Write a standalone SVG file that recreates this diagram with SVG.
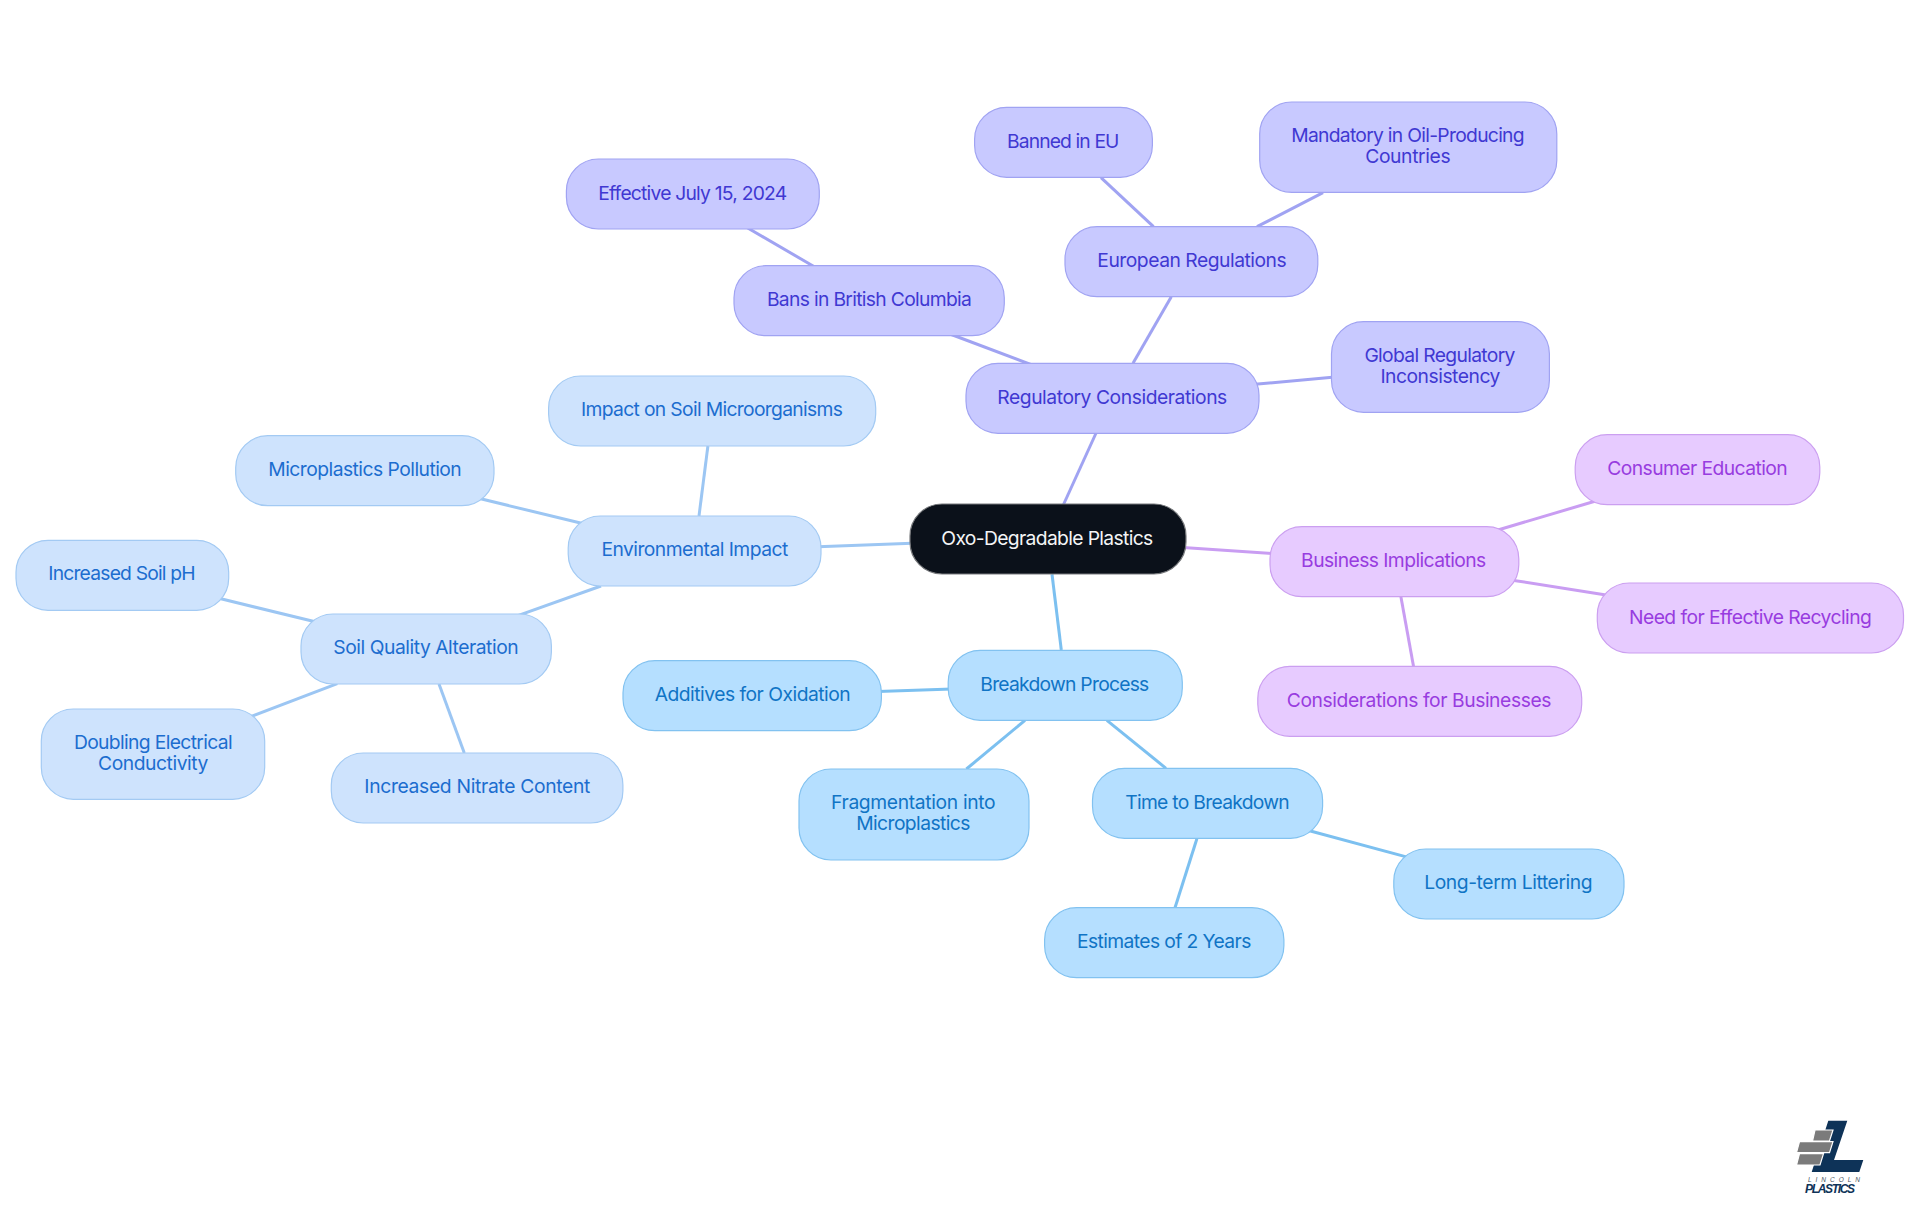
<svg xmlns="http://www.w3.org/2000/svg" width="1920" height="1215" viewBox="0 0 1920 1215">
<style>
text{font-family:"Inter","Liberation Sans",sans-serif;font-size:19.3px;text-anchor:middle;font-weight:400}
rect{stroke-width:1.2}
#connectors line{stroke-width:3;fill:none}
.r rect{fill:#0b111a;stroke:#77797c}.r text{fill:#f4f5f6}
.a rect{fill:#c8c9ff;stroke:#a0a3f2}.a text{fill:#4038d2}
.b rect{fill:#cee3fd;stroke:#a3caf3}.b text{fill:#1c6dcf}
.c rect{fill:#b5dfff;stroke:#82c2f0}.c text{fill:#1074c5}
.d rect{fill:#e7cbff;stroke:#cb9ff0}.d text{fill:#983ce0}
line.a{stroke:#a0a3f2}line.b{stroke:#9cc6f3}line.c{stroke:#7cc0f0}line.d{stroke:#c99df2}
</style>
<rect width="1920" height="1215" fill="#fff" style="stroke:none"/>
<g id="connectors">
<line class="a" x1="1063.3" y1="505" x2="1097" y2="431"/>
<line class="a" x1="950" y1="334" x2="1032" y2="365"/>
<line class="a" x1="745.6" y1="226.7" x2="816.5" y2="268"/>
<line class="a" x1="1171.3" y1="296.7" x2="1133" y2="363.3"/>
<line class="a" x1="1101" y1="177.7" x2="1153.5" y2="226.7"/>
<line class="a" x1="1323" y1="192.7" x2="1257" y2="226.7"/>
<line class="a" x1="1255" y1="384.3" x2="1335" y2="377"/>
<line class="b" x1="912" y1="543.2" x2="818" y2="546.8"/>
<line class="b" x1="707.9" y1="446" x2="699" y2="516"/>
<line class="b" x1="476.5" y1="497.8" x2="586.7" y2="524.5"/>
<line class="b" x1="601" y1="586" x2="517.8" y2="615.7"/>
<line class="b" x1="216.8" y1="597.8" x2="318.2" y2="622.5"/>
<line class="b" x1="337.3" y1="683.7" x2="248.6" y2="717.5"/>
<line class="b" x1="439" y1="684" x2="464.3" y2="753"/>
<line class="c" x1="1052" y1="574.3" x2="1061.3" y2="650"/>
<line class="c" x1="878" y1="691.4" x2="952" y2="688.9"/>
<line class="c" x1="1025" y1="720.3" x2="966.4" y2="769"/>
<line class="c" x1="1106.9" y1="720.3" x2="1166" y2="768.3"/>
<line class="c" x1="1306.7" y1="830" x2="1410" y2="857.9"/>
<line class="c" x1="1196.9" y1="838.7" x2="1175" y2="907.7"/>
<line class="d" x1="1183" y1="547.5" x2="1273" y2="553.5"/>
<line class="d" x1="1495.4" y1="530.7" x2="1598.2" y2="500.3"/>
<line class="d" x1="1510.5" y1="579.9" x2="1609.2" y2="595.5"/>
<line class="d" x1="1400.9" y1="596.7" x2="1413.5" y2="666.3"/>
</g>
<g id="root" class="r"><rect x="910" y="504" width="276" height="70" rx="32"/><text x="1047.3" y="544.5" textLength="212">Oxo-Degradable Plastics</text></g>
<g id="regulatory" class="a"><rect x="966" y="363.3" width="293" height="70" rx="32"/><text x="1112.3" y="404" textLength="230">Regulatory Considerations</text></g>
<g id="bans" class="a"><rect x="734" y="265.7" width="270.3" height="70" rx="32"/><text x="869.4" y="306" textLength="205">Bans in British Columbia</text></g>
<g id="effective" class="a"><rect x="566.4" y="159" width="252.9" height="70" rx="32"/><text x="692.7" y="199.5" textLength="189">Effective July 15, 2024</text></g>
<g id="european" class="a"><rect x="1065" y="226.7" width="252.8" height="70" rx="32"/><text x="1192" y="267" textLength="189.4">European Regulations</text></g>
<g id="banned" class="a"><rect x="974.6" y="107.3" width="177.8" height="70" rx="32"/><text x="1063.2" y="148" textLength="112.5">Banned in EU</text></g>
<g id="mandatory" class="a"><rect x="1259.7" y="102" width="297.1" height="90.3" rx="32"/><text x="1407.9" y="142" textLength="233.4">Mandatory in Oil-Producing</text><text x="1407.9" y="162.8" textLength="85.4">Countries</text></g>
<g id="global" class="a"><rect x="1331.5" y="321.7" width="217.9" height="90.6" rx="32"/><text x="1439.9" y="362" textLength="151">Global Regulatory</text><text x="1440.4" y="382.8" textLength="120">Inconsistency</text></g>
<g id="environmental" class="b"><rect x="568.2" y="516" width="252.8" height="70" rx="32"/><text x="694.8" y="556" textLength="186.8">Environmental Impact</text></g>
<g id="soilmicro" class="b"><rect x="548.6" y="376" width="327.1" height="70" rx="32"/><text x="712" y="416.3" textLength="262">Impact on Soil Microorganisms</text></g>
<g id="micropollution" class="b"><rect x="235.7" y="435.7" width="258.3" height="70" rx="32"/><text x="365" y="476" textLength="193.5">Microplastics Pollution</text></g>
<g id="soilquality" class="b"><rect x="301" y="614" width="250.4" height="70" rx="32"/><text x="426" y="654.3" textLength="185.3">Soil Quality Alteration</text></g>
<g id="soilph" class="b"><rect x="16" y="540.3" width="212.7" height="70" rx="32"/><text x="122" y="580.3" textLength="147.4">Increased Soil pH</text></g>
<g id="doubling" class="b"><rect x="41.3" y="709" width="223.4" height="90.3" rx="32"/><text x="153.3" y="749" textLength="158.7">Doubling Electrical</text><text x="153.2" y="769.8" textLength="110.3">Conductivity</text></g>
<g id="nitrate" class="b"><rect x="331.3" y="753" width="291.6" height="70" rx="32"/><text x="477.3" y="793.3" textLength="226">Increased Nitrate Content</text></g>
<g id="breakdown" class="c"><rect x="948.2" y="650.3" width="234.1" height="70" rx="32"/><text x="1064.8" y="690.5" textLength="169">Breakdown Process</text></g>
<g id="additives" class="c"><rect x="623" y="660.7" width="258.4" height="70" rx="32"/><text x="752.7" y="701" textLength="196">Additives for Oxidation</text></g>
<g id="fragmentation" class="c"><rect x="799" y="769" width="230" height="91" rx="32"/><text x="913.3" y="809" textLength="164.6">Fragmentation into</text><text x="913.3" y="830" textLength="114.3">Microplastics</text></g>
<g id="time" class="c"><rect x="1092.5" y="768.3" width="230.1" height="70" rx="32"/><text x="1207.5" y="808.5" textLength="164.5">Time to Breakdown</text></g>
<g id="littering" class="c"><rect x="1393.8" y="849" width="230.2" height="70" rx="32"/><text x="1508.4" y="889.3" textLength="168.5">Long-term Littering</text></g>
<g id="estimates" class="c"><rect x="1044.6" y="907.7" width="239.3" height="70" rx="32"/><text x="1164.2" y="948" textLength="174.4">Estimates of 2 Years</text></g>
<g id="business" class="d"><rect x="1270" y="526.7" width="248.8" height="70" rx="32"/><text x="1393.7" y="567" textLength="185.2">Business Implications</text></g>
<g id="consumer" class="d"><rect x="1575.2" y="434.7" width="244.6" height="70" rx="32"/><text x="1697.5" y="475" textLength="180.4">Consumer Education</text></g>
<g id="recycling" class="d"><rect x="1597.3" y="583" width="306.2" height="70" rx="32"/><text x="1750.4" y="623.5" textLength="242.8">Need for Effective Recycling</text></g>
<g id="considerations" class="d"><rect x="1257.8" y="666.3" width="323.9" height="70" rx="32"/><text x="1419.1" y="706.5" textLength="264.6">Considerations for Businesses</text></g>
<g id="logo">
<polygon points="1828.3,1120.7 1847.3,1120.7 1834,1160 1863.3,1160 1859.3,1172 1811.7,1172" fill="#0e3358"/>
<g fill="#7b7b7b" stroke="#fff" stroke-width="1.2">
<polygon points="1815,1130 1833,1130 1829.5,1141 1812.5,1141"/>
<polygon points="1799.5,1141.7 1833,1141.7 1829.5,1152.7 1796.5,1152.7"/>
<polygon points="1799.5,1153.7 1823.5,1153.7 1820,1165 1796.5,1165"/>
</g>
<text x="1834" y="1181.5" fill="#4a5560" textLength="52" style="font-family:'Liberation Sans',sans-serif;font-size:6.5px;font-style:italic;font-weight:400">LINCOLN</text>
<text x="1830" y="1193" fill="#0e3358" textLength="50" style="font-family:'Liberation Sans',sans-serif;font-size:12px;font-style:italic;font-weight:700">PLASTICS</text>
</g>
</svg>
